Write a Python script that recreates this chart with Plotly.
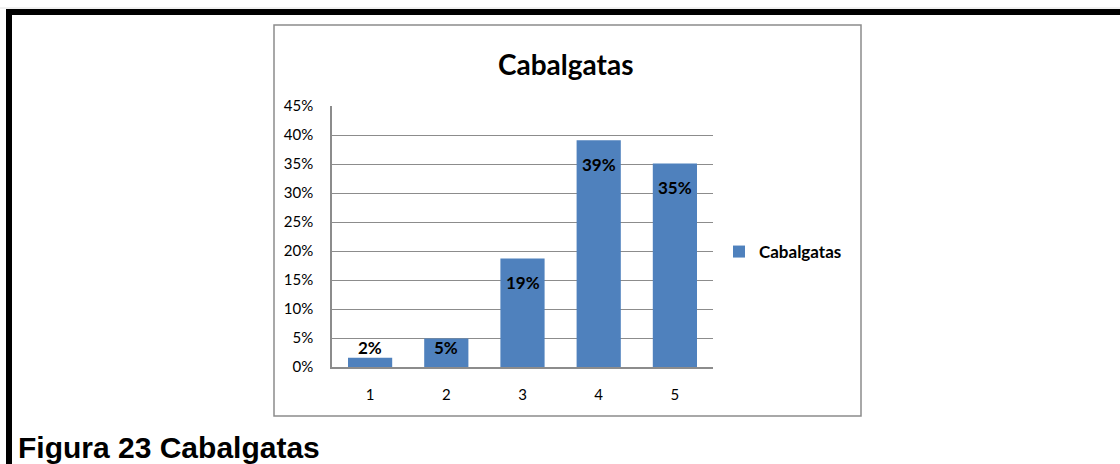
import plotly.graph_objects as go

# Survey results: share of answers per rating (1-5)
categories = ["1", "2", "3", "4", "5"]
shares = [0.016, 0.049, 0.187, 0.391, 0.351]
series_name = "Cabalgatas"
chart_title = "Cabalgatas"
caption = "Figura 23 Cabalgatas"
y_ticks = [0, 0.05, 0.10, 0.15, 0.20, 0.25, 0.30, 0.35, 0.40, 0.45]

W, H = 1120, 464
# plot-area rectangle in pixels
PL, PR, PT, PB = 332, 713, 106, 367
Y_MAX = 0.45
px_per_unit = (PB - PT) / Y_MAX

BAR_BLUE = "#4F81BD"
GRID = "#8C8C8C"
FONT = "Lato, 'Open Sans', sans-serif"


def px(x):
    return (x - PL) / (PR - PL)


def py(y):
    return (PB - y) / (PB - PT)


fig = go.Figure()
fig.add_trace(go.Bar(
    x=categories,
    y=shares,
    name=series_name,
    marker=dict(color=BAR_BLUE, line=dict(width=0)),
    showlegend=True,
    hoverinfo="x+y",
))

# value labels: just inside the top of each bar, kept clear of the baseline
annotations = []
for i, v in enumerate(shares):
    h = v * px_per_unit
    annotations.append(dict(
        x=i, y=v, xref="x", yref="y",
        text=f"{v:.0%}", showarrow=False,
        yanchor="middle", xanchor="center",
        yshift=max(-24, 20 - h),
        font=dict(family=FONT, size=17, color="#000000", weight="bold"),
    ))

# chart title
annotations.append(dict(
    x=px(566), y=py(64), xref="paper", yref="paper",
    text=chart_title, showarrow=False,
    xanchor="center", yanchor="middle",
    font=dict(family=FONT, size=28, color="#000000", weight="bold"),
))

# figure caption below the chart frame
annotations.append(dict(
    x=px(16), y=py(447), xref="paper", yref="paper",
    text=caption, showarrow=False,
    xanchor="left", yanchor="middle",
    font=dict(family="'Liberation Sans', Arial, sans-serif", size=30,
              color="#000000", weight="bold"),
))

shapes = [
    # page frame (top and left rules)
    dict(type="rect", xref="paper", yref="paper",
         x0=px(6), x1=px(W + 5), y0=py(15), y1=py(9),
         fillcolor="#000000", line=dict(width=0), layer="below"),
    dict(type="rect", xref="paper", yref="paper",
         x0=px(6), x1=px(12), y0=py(H + 5), y1=py(9),
         fillcolor="#000000", line=dict(width=0), layer="below"),
    dict(type="line", xref="paper", yref="paper",
         x0=px(0), x1=px(W), y0=py(8), y1=py(8),
         line=dict(color="#E2E2E2", width=1), layer="below"),
    # chart frame
    dict(type="rect", xref="paper", yref="paper",
         x0=px(274), x1=px(861), y0=py(416), y1=py(25),
         fillcolor="rgba(0,0,0,0)", line=dict(color=GRID, width=1.5),
         layer="below"),
]

fig.update_layout(
    width=W, height=H,
    margin=dict(l=PL, r=W - PR, t=PT, b=H - PB, pad=0),
    paper_bgcolor="#FFFFFF",
    plot_bgcolor="#FFFFFF",
    bargap=0.42,
    font=dict(family=FONT, size=15, color="#000000"),
    annotations=annotations,
    shapes=shapes,
    legend=dict(
        x=px(719), y=py(252), xanchor="left", yanchor="middle",
        bgcolor="rgba(0,0,0,0)", borderwidth=0,
        font=dict(family=FONT, size=17, color="#000000", weight="bold"),
        itemwidth=30,
    ),
    xaxis=dict(
        type="category",
        range=[-0.5, len(categories) - 0.5],
        showgrid=False,
        showline=True, linecolor=GRID, linewidth=1.5,
        ticks="outside", ticklen=13, tickcolor="rgba(0,0,0,0)",
        tickfont=dict(family=FONT, size=15, color="#000000"),
        fixedrange=True,
    ),
    yaxis=dict(
        range=[0, Y_MAX],
        tickvals=y_ticks,
        tickformat=".0%",
        showgrid=True, gridcolor=GRID, gridwidth=1,
        showline=True, linecolor=GRID, linewidth=1.5,
        zeroline=False,
        ticks="outside", ticklen=14, tickcolor="rgba(0,0,0,0)",
        tickfont=dict(family=FONT, size=15, color="#000000"),
        fixedrange=True,
    ),
)

fig.write_html("out.html")
